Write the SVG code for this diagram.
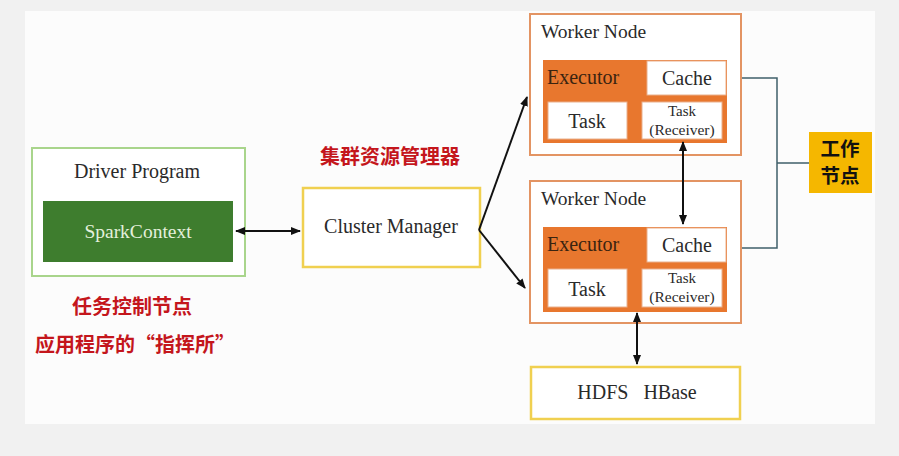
<svg xmlns="http://www.w3.org/2000/svg" width="899" height="456" viewBox="0 0 899 456">
<defs>
<marker id="ah" viewBox="0 0 10 10" refX="9" refY="5" markerWidth="5" markerHeight="5" orient="auto-start-reverse" markerUnits="strokeWidth">
<path d="M0,1 L10,5 L0,9 Z" fill="#111"/>
</marker>
</defs>
<style>
.serif{font-family:"Liberation Serif","Times New Roman",serif;fill:#2a2a2a}
.red{font-family:"Noto Sans CJK SC",sans-serif;font-weight:bold;fill:#c4161c;font-size:20px}
.wn{fill:#fff;stroke:#e39463;stroke-width:2}
.exec{fill:#e8772e}
.wbox{fill:#fff;stroke:#e9b08c;stroke-width:1}
.yel{fill:#fff;stroke:#f0d050;stroke-width:2.5}
.conn{stroke:#111;stroke-width:2;fill:none}
.gline{stroke:#3f5f6a;stroke-width:1.5;fill:none}
</style>
<rect x="0" y="0" width="899" height="456" fill="#f1f1f1"/>
<rect x="25" y="11" width="850" height="413" fill="#fcfcfc"/>

<g id="driver">
<rect x="32" y="148" width="213" height="128" fill="#fff" stroke="#a9d58c" stroke-width="2"/>
<text class="serif" x="137" y="178" font-size="20" text-anchor="middle">Driver Program</text>
<rect id="sparkcontext" x="43" y="201" width="190" height="61" fill="#3e7d2e"/>
<text x="138" y="238" font-size="19.5" text-anchor="middle" style="font-family:'Liberation Serif',serif;fill:#e4f0dc">SparkContext</text>
</g>

<g id="driver-label">
<text class="red" x="132" y="314" text-anchor="middle">任务控制节点</text>
<text class="red" x="135" y="352" text-anchor="middle">应用程序的“指挥所”</text>
</g>

<g id="cluster-manager">
<rect class="yel" x="303" y="188" width="177" height="79"/>
<text class="serif" x="391" y="233" font-size="20" text-anchor="middle">Cluster Manager</text>
<text class="red" x="390" y="164" text-anchor="middle">集群资源管理器</text>
</g>

<g id="worker1">
<rect class="wn" x="530" y="14" width="211" height="141"/>
<text class="serif" x="541" y="38" font-size="19.5">Worker Node</text>
<rect class="exec" x="543" y="60" width="184" height="83"/>
<text class="serif" x="547" y="84" font-size="20" style="fill:#3a2410">Executor</text>
<rect class="wbox" x="647" y="61" width="79" height="34"/>
<text class="serif" x="687" y="85" font-size="20" text-anchor="middle">Cache</text>
<rect class="wbox" x="548" y="102" width="79" height="37"/>
<text class="serif" x="587" y="128" font-size="20" text-anchor="middle">Task</text>
<rect class="wbox" x="642" y="102" width="80" height="37"/>
<text class="serif" x="682" y="116" font-size="15" text-anchor="middle">Task</text>
<text class="serif" x="682" y="135" font-size="15.5" text-anchor="middle">(Receiver)</text>
</g>

<g id="worker2">
<rect class="wn" x="530" y="181" width="211" height="142"/>
<text class="serif" x="541" y="205" font-size="19.5">Worker Node</text>
<rect class="exec" x="543" y="227" width="184" height="85"/>
<text class="serif" x="547" y="251" font-size="20" style="fill:#3a2410">Executor</text>
<rect class="wbox" x="647" y="228" width="79" height="34"/>
<text class="serif" x="687" y="252" font-size="20" text-anchor="middle">Cache</text>
<rect class="wbox" x="548" y="269" width="79" height="38"/>
<text class="serif" x="587" y="296" font-size="20" text-anchor="middle">Task</text>
<rect class="wbox" x="642" y="269" width="80" height="38"/>
<text class="serif" x="682" y="283" font-size="15" text-anchor="middle">Task</text>
<text class="serif" x="682" y="302" font-size="15.5" text-anchor="middle">(Receiver)</text>
</g>

<g id="storage">
<rect class="yel" x="531" y="367" width="209" height="52"/>
<text class="serif" x="637" y="399" font-size="20" text-anchor="middle" xml:space="preserve">HDFS   HBase</text>
</g>

<g id="work-node-label">
<rect x="809" y="132" width="63" height="61" fill="#f5b700"/>
<text font-size="19.5" text-anchor="middle" style="font-family:'Noto Sans CJK SC',sans-serif;font-weight:bold;fill:#111"><tspan x="840" y="156">工作</tspan><tspan x="840" y="183">节点</tspan></text>
</g>

<g id="connectors">
<line class="conn" x1="236" y1="231" x2="300" y2="231" marker-start="url(#ah)" marker-end="url(#ah)"/>
<line class="conn" x1="479" y1="230" x2="527" y2="97" marker-end="url(#ah)"/>
<line class="conn" x1="479" y1="230" x2="525" y2="288" marker-end="url(#ah)"/>
<line class="conn" x1="683" y1="142" x2="683" y2="224" marker-start="url(#ah)" marker-end="url(#ah)"/>
<line class="conn" x1="637" y1="313" x2="637" y2="364" marker-start="url(#ah)" marker-end="url(#ah)"/>
<polyline class="gline" points="742,78 777,78 777,248 742,248"/>
<line class="gline" x1="777" y1="163" x2="809" y2="163"/>
</g>
</svg>
